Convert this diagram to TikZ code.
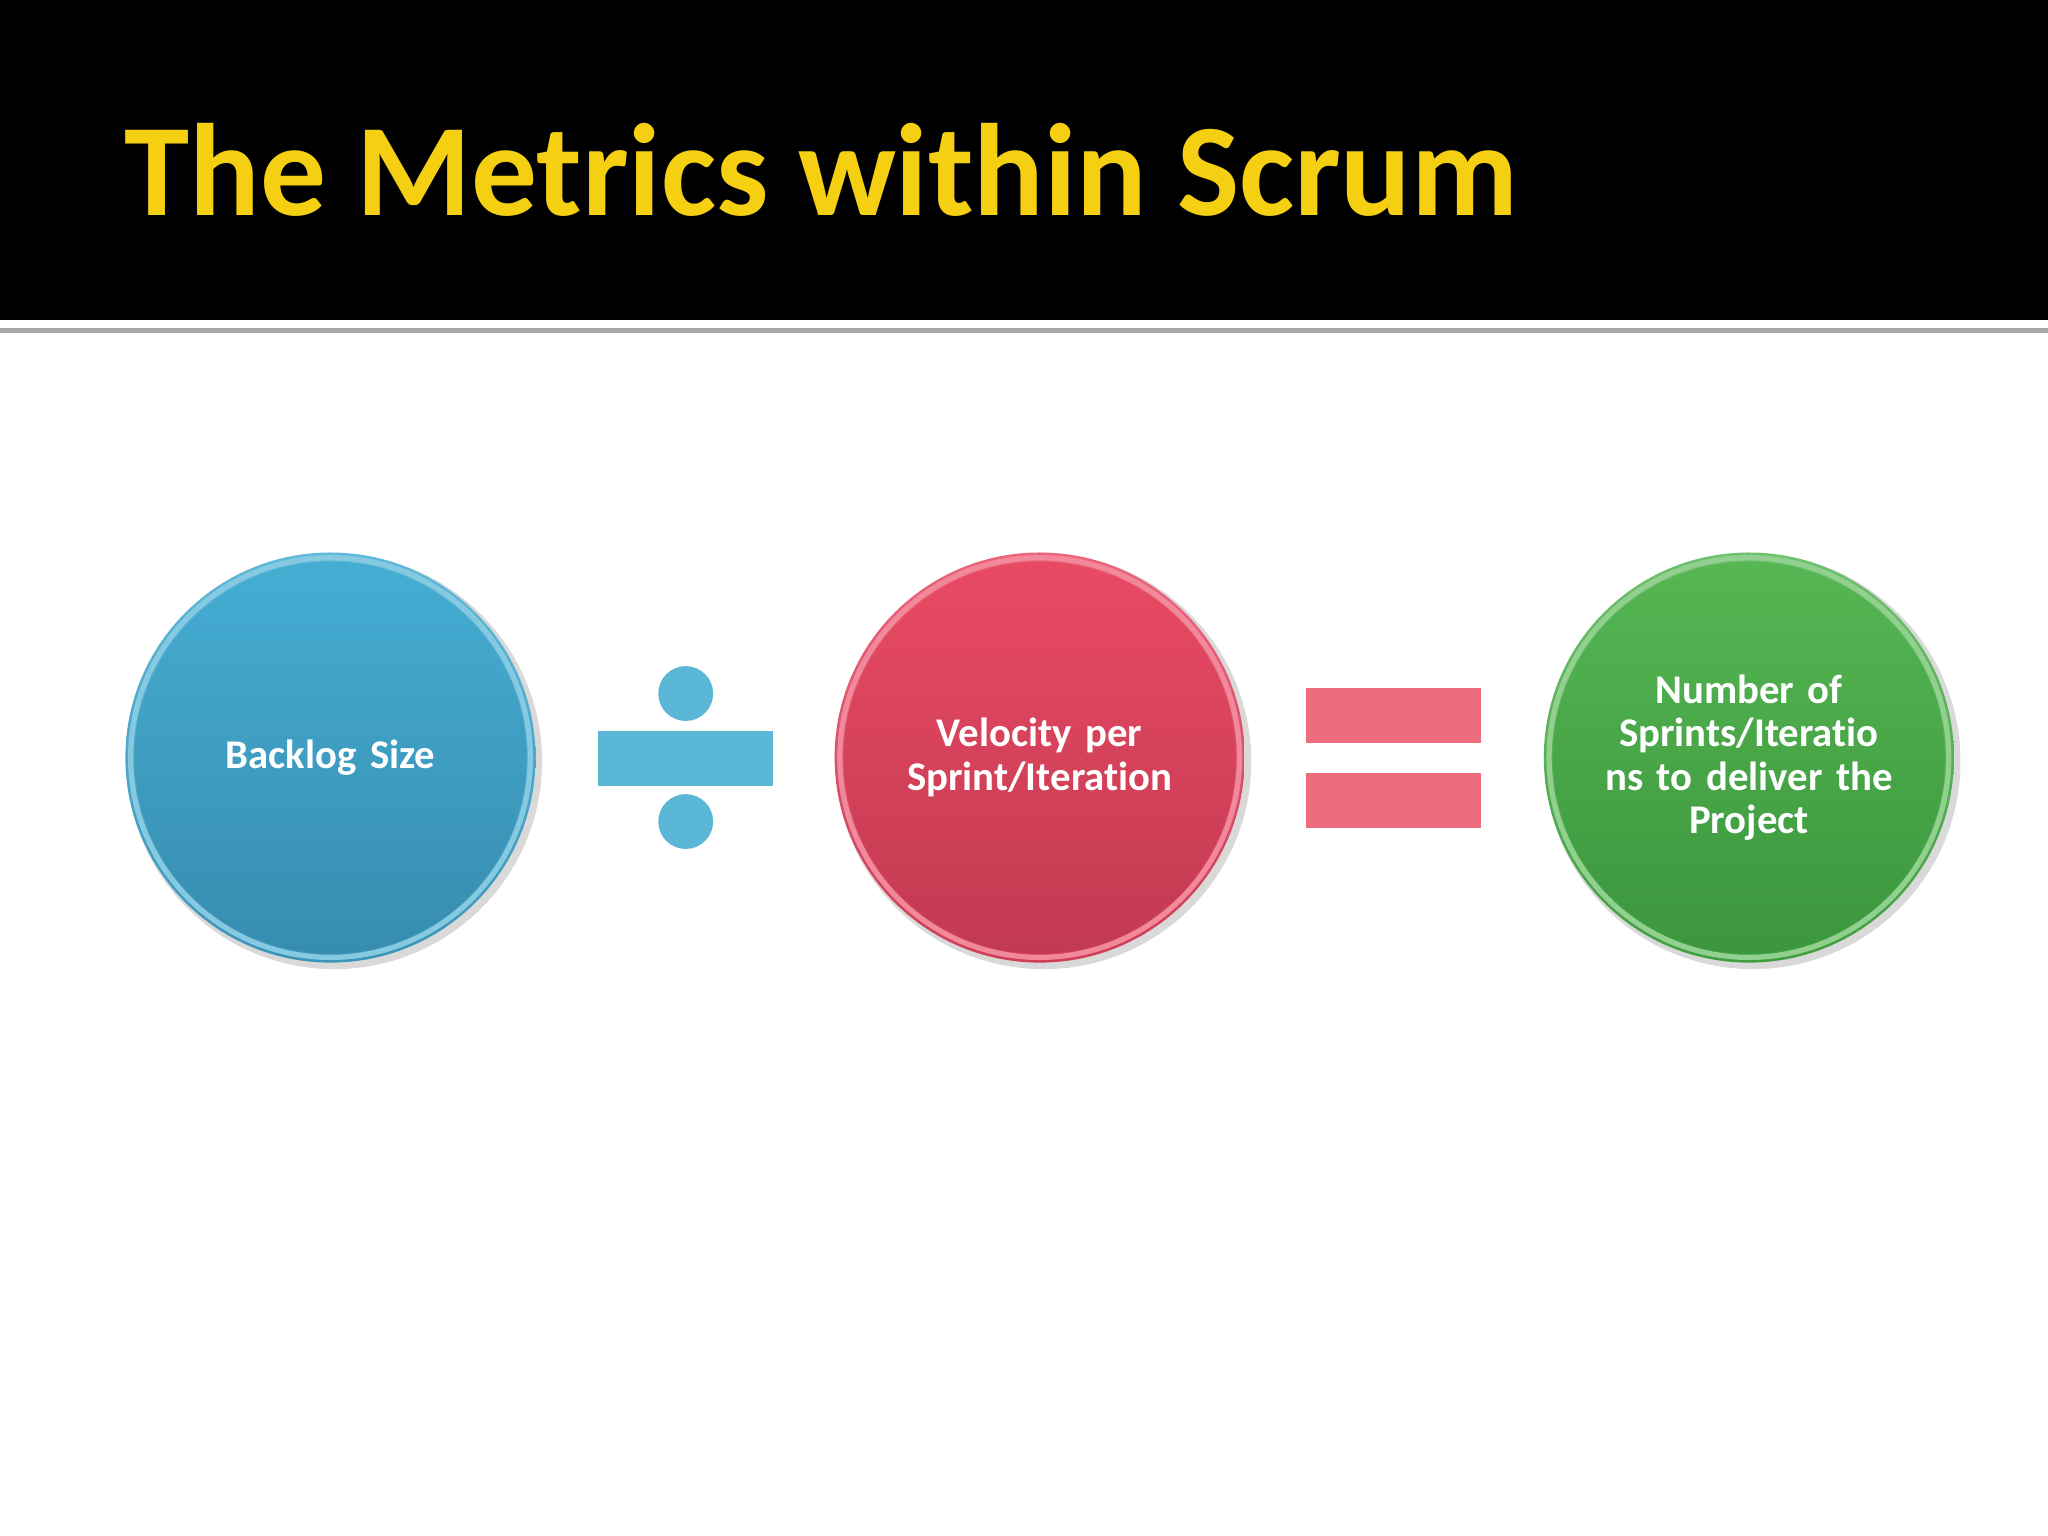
\documentclass[tikz,border=0pt]{standalone}
\usepackage{fontspec}
\setmainfont[Ligatures={NoCommon,NoRequired,NoContextual}]{Carlito}
\definecolor{bluec}{HTML}{45ADD3}
\definecolor{blued}{HTML}{3A94B8}
\definecolor{redc}{HTML}{E94A63}
\definecolor{redd}{HTML}{CC3D56}
\definecolor{greenc}{HTML}{55B653}
\definecolor{greend}{HTML}{3F9E40}
\definecolor{titley}{HTML}{F5CF12}
\definecolor{opblue}{HTML}{5BB7D6}
\definecolor{opred}{HTML}{EC6E7E}
\begin{document}
\begin{tikzpicture}[x=0.013061cm,y=-0.013061cm,
  ball/.style={circle,inner sep=0pt,text=white,font=\bfseries\fontsize{11.6}{12.4}\selectfont,align=center,text width=230},
]
\useasboundingbox (0,0) rectangle (1568,1176);
\fill[white] (0,0) rectangle (1568,1176);
\fill[black] (0,0) rectangle (1568,245);
\fill[gray!70] (0,251) rectangle (1568,255);
\node[anchor=base west,inner sep=0pt,text=titley,font=\bfseries\fontsize{37.4}{40}\selectfont] (title) at (95,165) {The Metrics within Scrum};
% circles
\foreach \n/\cx/\ca/\cb in {b/253/bluec/blued, r/796/redc/redd, g/1339/greenc/greend}{
  \fill[gray!30] (\cx+3,583) circle (159);
  \shade[top color=\ca!85!white,bottom color=\cb] (\cx,580) circle (157);
  \draw[\ca!65!white,line width=1.5pt] (\cx,580) circle (153);
  \shade[top color=\ca,bottom color=\cb!95!black] (\cx,580) circle (150);
}
\node[ball] (backlog) at (253,580) {Backlog Size};
\node[ball] (velocity) at (796,580) {Velocity per\\Sprint/Iteration};
\node[ball] (number) at (1339,580) {Number of\\Sprints/Iteratio\\ns to deliver the\\Project};
% divide
\fill[opblue] (458,560) rectangle (592,602);
\fill[opblue] (525,531) circle (21);
\fill[opblue] (525,629) circle (21);
% equals
\fill[opred] (1000,527) rectangle (1134,569);
\fill[opred] (1000,592) rectangle (1134,634);
\end{tikzpicture}
\end{document}
